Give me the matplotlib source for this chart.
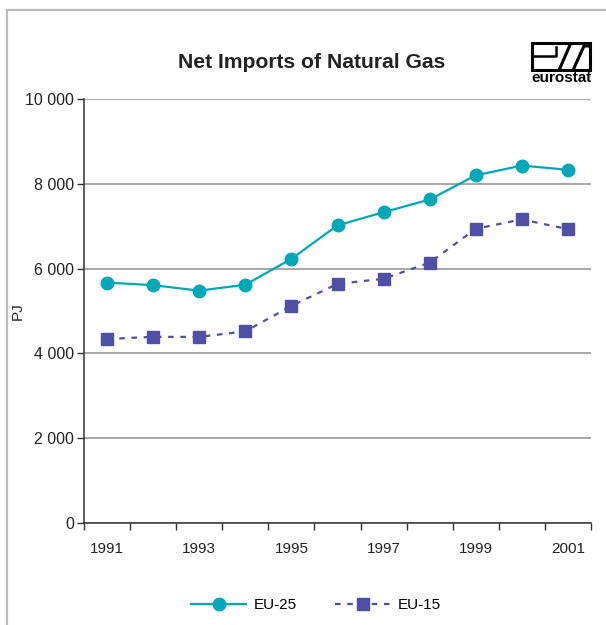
import matplotlib
matplotlib.use('Agg')
import matplotlib.pyplot as plt
from matplotlib.lines import Line2D
from matplotlib.patches import Rectangle

plt.rcParams['font.family'] = ['Liberation Sans', 'DejaVu Sans']

# Data (PJ)
years = [1991, 1992, 1993, 1994, 1995, 1996, 1997, 1998, 1999, 2000, 2001]
eu25 = [5670, 5610, 5480, 5620, 6230, 7020, 7330, 7630, 8200, 8430, 8330]
eu15 = [4340, 4390, 4390, 4520, 5120, 5640, 5760, 6140, 6940, 7160, 6930]
y_ticks = [0, 2000, 4000, 6000, 8000, 10000]

teal = '#00A9B8'
purple = '#4F4FA5'
axis_col = '#333333'
txt_col = '#222222'

W, H = 606, 625
fig = plt.figure(figsize=(W / 100, H / 100), dpi=100)

# frame around the chart (left and top only)
fig.add_artist(Line2D([7 / W, 7 / W], [0, 1 - 10 / H], transform=fig.transFigure,
                      color='#BBBBBB', lw=1.6))
fig.add_artist(Line2D([7 / W, 1], [1 - 10 / H, 1 - 10 / H], transform=fig.transFigure,
                      color='#BBBBBB', lw=1.6))

left, right = 84 / W, 591 / W
bottom, top = 1 - 523 / H, 1 - 99 / H
ax = fig.add_axes([left, bottom, right - left, top - bottom])

x = list(range(len(years)))
ax.plot(x, eu25, color=teal, lw=1.6, marker='o', markersize=9, label='EU-25')
ax.plot(x, eu15, color=purple, lw=1.6, ls=(0, (2.5, 3)), marker='s', markersize=8.5,
        label='EU-15')

ax.set_xlim(-0.5, len(years) - 0.5)
ax.set_ylim(0, 10000)
ax.set_yticks(y_ticks)
ax.set_yticklabels([f'{v:,}'.replace(',', ' ') for v in y_ticks])
ax.set_xticks(x[::2])
ax.set_xticklabels([str(y) for y in years[::2]])
ax.set_xticks([i - 0.5 for i in range(len(years) + 1)], minor=True)
ax.tick_params(axis='x', which='major', length=0, pad=14, labelsize=11, colors=txt_col)
ax.tick_params(axis='x', which='minor', length=5, width=1, color=axis_col)
ax.tick_params(axis='y', length=5, width=1, color=axis_col, labelsize=11.5,
               labelcolor=txt_col, pad=2)
ax.yaxis.grid(True, color='#A0A0A0', lw=1.3)
ax.set_axisbelow(True)
for s in ['top', 'right']:
    ax.spines[s].set_visible(False)
for s in ['left', 'bottom']:
    ax.spines[s].set_color(axis_col)
    ax.spines[s].set_linewidth(1.1)
ax.set_ylabel('PJ', fontsize=11, color=txt_col)
ax.yaxis.set_label_coords(-0.116, 0.5)

fig.text(312 / W, 1 - 62 / H, 'Net Imports of Natural Gas', ha='center', va='center',
         fontsize=15.2, fontweight='bold', color=txt_col)

# eurostat logo
fig.add_artist(Rectangle((532 / W, 1 - 70 / H), 58 / W, 27 / H, transform=fig.transFigure,
                         fill=False, ec='black', lw=2.2))
fig.add_artist(Line2D([533 / W, 556 / W, 556 / W], [1 - 56 / H, 1 - 56 / H, 1 - 47 / H],
                      transform=fig.transFigure, color='black', lw=1.8))
fig.add_artist(Line2D([560 / W, 570 / W], [1 - 68 / H, 1 - 45 / H],
                      transform=fig.transFigure, color='black', lw=2.2))
fig.add_artist(Line2D([574 / W, 584 / W, 589 / W], [1 - 68 / H, 1 - 46 / H, 1 - 46 / H],
                      transform=fig.transFigure, color='black', lw=2.2))
fig.text(561 / W, 1 - 78.5 / H, 'eurostat', ha='center', va='center', fontsize=11,
         fontweight='bold', color='black')

fig.legend(loc='center', bbox_to_anchor=(316 / W, 1 - 605 / H), ncol=2, frameon=False,
           fontsize=11, handlelength=3.6, columnspacing=2.5, handletextpad=0.5)

fig.savefig('out.png', dpi=100, facecolor='white')
